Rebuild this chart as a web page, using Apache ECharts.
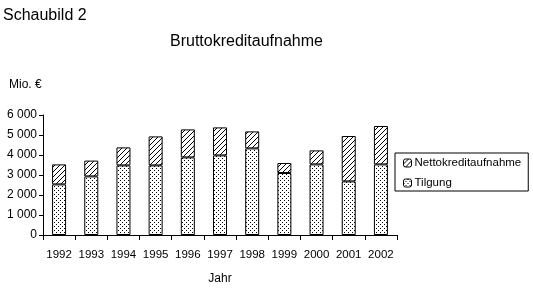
<!DOCTYPE html>
<html><head><meta charset="utf-8">
<script src="https://cdn.jsdelivr.net/npm/echarts@6/dist/echarts.min.js"></script>
<style>html,body{margin:0;padding:0;background:#fff}#c{width:533px;height:288px}</style>
</head><body><div id="c"></div>
<script>
const years = ['1992','1993','1994','1995','1996','1997','1998','1999','2000','2001','2002'];
const tilgung = [2530,2930,3480,3480,3880,3980,4330,3100,3530,2680,3530];
const netto = [1000,790,900,1450,1400,1400,850,500,700,2270,1920];
const yTicks = [0,1000,2000,3000,4000,5000,6000];

function dots(){
  const c=document.createElement('canvas');c.width=4;c.height=4;
  const g=c.getContext('2d');g.fillStyle='#fff';g.fillRect(0,0,4,4);
  g.fillStyle='#000';g.fillRect(0,0,1,1);g.fillRect(2,2,1,1);
  return c;
}
function hatch(){
  const c=document.createElement('canvas');c.width=5;c.height=5;
  const g=c.getContext('2d');g.fillStyle='#fff';g.fillRect(0,0,5,5);
  g.fillStyle='#000';
  for(let i=0;i<5;i++){g.fillRect(4-i,i,1,1);}
  return c;
}
const font='Liberation Sans, Arial, sans-serif';
const chart=echarts.init(document.getElementById('c'),null,{renderer:'canvas'});
chart.setOption({
  animation:false,
  backgroundColor:'#fff',
  title:[
    {text:'Schaubild 2',left:3,top:8,padding:0,textStyle:{fontFamily:font,fontSize:16,fontWeight:'normal',color:'#000'}},
    {text:'Bruttokreditaufnahme',left:170,top:34,padding:0,textStyle:{fontFamily:font,fontSize:16,fontWeight:'normal',color:'#000'}},
    {text:'Mio. €',left:9,top:79,padding:0,textStyle:{fontFamily:font,fontSize:12,fontWeight:'normal',color:'#000'}}
  ],
  legend:{
    orient:'vertical',left:395,top:153,
    data:['Nettokreditaufnahme','Tilgung'],
    borderColor:'#000',borderWidth:1,padding:[4,7,2,8],
    itemWidth:8,itemHeight:8,itemGap:8,
    textStyle:{fontFamily:font,fontSize:11.5,color:'#000',padding:[0,0,0,-2]},
    itemStyle:{borderColor:'#000',borderWidth:1}
  },
  grid:{left:43,right:136,top:115,bottom:53,containLabel:false},
  xAxis:{
    type:'category',data:years,name:'Jahr',nameLocation:'middle',nameGap:38,
    nameTextStyle:{fontFamily:font,fontSize:12,color:'#000'},
    axisLine:{lineStyle:{color:'#000'}},
    axisTick:{show:true,length:5,lineStyle:{color:'#000'}},
    axisLabel:{fontFamily:font,fontSize:11.5,color:'#000',margin:14,interval:0}
  },
  yAxis:{
    type:'value',min:0,max:6000,interval:1000,
    axisLine:{show:true,lineStyle:{color:'#000'}},
    axisTick:{show:true,length:4,lineStyle:{color:'#000'}},
    splitLine:{show:false},
    axisLabel:{fontFamily:font,fontSize:12,color:'#000',margin:6,
      formatter:v=>yTicks.includes(v)?String(v).replace(/\B(?=(\d{3})+(?!\d))/g,' '):''}
  },
  series:[
    {name:'Tilgung',type:'bar',stack:'a',data:tilgung,barWidth:14,
      itemStyle:{color:{image:dots(),repeat:'repeat'},borderColor:'#000',borderWidth:1}},
    {name:'Nettokreditaufnahme',type:'bar',stack:'a',data:netto,barWidth:14,
      itemStyle:{color:{image:hatch(),repeat:'repeat'},borderColor:'#000',borderWidth:1}}
  ]
});
</script></body></html>
